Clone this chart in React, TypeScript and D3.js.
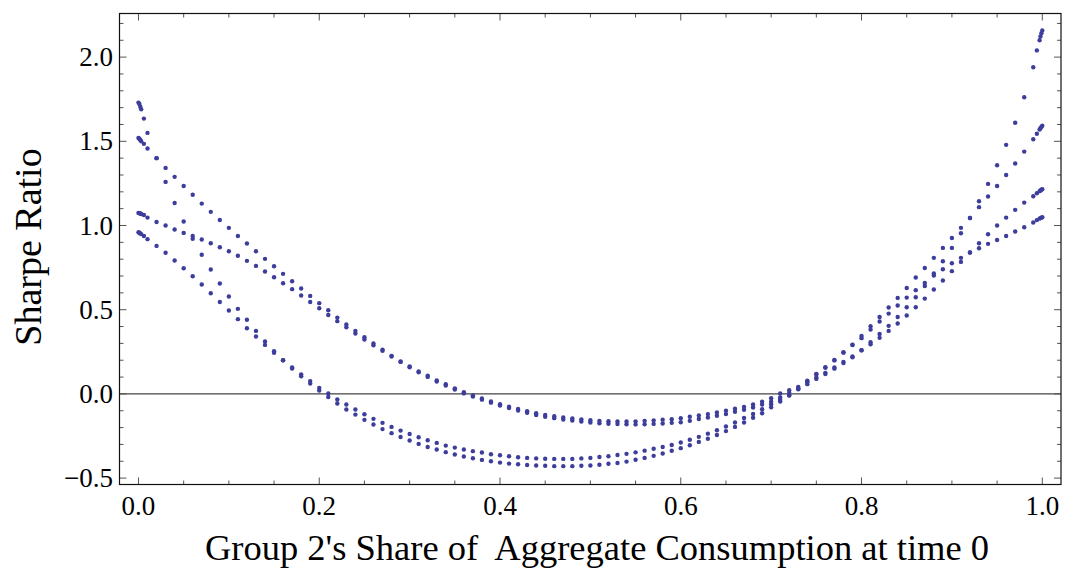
import React, { useRef, useEffect } from 'react';
import * as d3 from 'd3';

// share of group 2 at time 0 (dense near both ends)
const shares = [
  0, 0.001, 0.002, 0.003, 0.006,
  0.01, 0.02, 0.03, 0.04, 0.05, 0.06, 0.07, 0.08, 0.09,
  0.1, 0.11, 0.12, 0.13, 0.14, 0.15, 0.16, 0.17, 0.18, 0.19,
  0.2, 0.21, 0.22, 0.23, 0.24, 0.25, 0.26, 0.27, 0.28, 0.29,
  0.3, 0.31, 0.32, 0.33, 0.34, 0.35, 0.36, 0.37, 0.38, 0.39,
  0.4, 0.41, 0.42, 0.43, 0.44, 0.45, 0.46, 0.47, 0.48, 0.49,
  0.5, 0.51, 0.52, 0.53, 0.54, 0.55, 0.56, 0.57, 0.58, 0.59,
  0.6, 0.61, 0.62, 0.63, 0.64, 0.65, 0.66, 0.67, 0.68, 0.69,
  0.7, 0.71, 0.72, 0.73, 0.74, 0.75, 0.76, 0.77, 0.78, 0.79,
  0.8, 0.81, 0.82, 0.83, 0.84, 0.85, 0.86, 0.87, 0.88, 0.89,
  0.9, 0.91, 0.92, 0.93, 0.94, 0.95, 0.96, 0.97, 0.98, 0.99,
  0.994, 0.997, 0.998, 0.999, 1
];

// deep curve, lower branch in the middle
const deepLow = [
  1.730, 1.722, 1.705, 1.690, 1.635,
  1.550, 1.400, 1.259, 1.134, 1.024, 0.921, 0.826, 0.739, 0.656,
  0.578, 0.505, 0.440, 0.374, 0.311, 0.254, 0.200, 0.151, 0.105, 0.062,
  0.020, -0.018, -0.057, -0.093, -0.123, -0.154, -0.182, -0.209, -0.233, -0.256,
  -0.277, -0.297, -0.315, -0.330, -0.346, -0.360, -0.372, -0.382, -0.392, -0.400,
  -0.408, -0.414, -0.418, -0.422, -0.425, -0.427, -0.429, -0.429, -0.429, -0.427,
  -0.425, -0.421, -0.415, -0.410, -0.402, -0.391, -0.380, -0.368, -0.354, -0.338,
  -0.322, -0.305, -0.285, -0.266, -0.244, -0.221, -0.196, -0.170, -0.142, -0.115,
  -0.079, -0.045, -0.010, 0.028, 0.073, 0.115, 0.155, 0.199, 0.245, 0.292,
  0.344, 0.402, 0.457, 0.513, 0.570, 0.629, 0.691, 0.748, 0.808, 0.867,
  0.926, 0.986, 1.045, 1.109, 1.172, 1.235, 1.300, 1.368, 1.439, 1.512,
  1.545, 1.570, 1.578, 1.586, 1.592
];

// deep curve, upper branch in the middle
const deepHigh = [
  0.960, 0.957, 0.953, 0.949, 0.938,
  0.919, 0.879, 0.838, 0.792, 0.746, 0.699, 0.650, 0.598, 0.546,
  0.495, 0.444, 0.390, 0.341, 0.291, 0.244, 0.200, 0.157, 0.116, 0.076,
  0.036, 0.002, -0.033, -0.063, -0.093, -0.121, -0.148, -0.172, -0.196, -0.218,
  -0.238, -0.257, -0.275, -0.291, -0.307, -0.319, -0.330, -0.340, -0.348, -0.358,
  -0.364, -0.370, -0.376, -0.380, -0.383, -0.385, -0.386, -0.386, -0.386, -0.383,
  -0.380, -0.375, -0.370, -0.363, -0.356, -0.347, -0.337, -0.326, -0.315, -0.303,
  -0.289, -0.272, -0.255, -0.236, -0.216, -0.194, -0.170, -0.143, -0.119, -0.091,
  -0.061, -0.035, -0.008, 0.032, 0.079, 0.119, 0.159, 0.201, 0.247, 0.290,
  0.331, 0.382, 0.430, 0.477, 0.525, 0.572, 0.616, 0.659, 0.703, 0.740,
  0.776, 0.808, 0.840, 0.865, 0.891, 0.914, 0.938, 0.964, 0.990, 1.018,
  1.032, 1.041, 1.044, 1.047, 1.049
];

// shallow curve, lower branch in the middle
const shallowLow = [
  1.520, 1.515, 1.508, 1.500, 1.485,
  1.457, 1.400, 1.342, 1.289, 1.235, 1.183, 1.130, 1.081, 1.033,
  0.986, 0.938, 0.893, 0.847, 0.802, 0.758, 0.713, 0.669, 0.626, 0.582,
  0.539, 0.497, 0.453, 0.412, 0.374, 0.337, 0.299, 0.262, 0.226, 0.190,
  0.158, 0.128, 0.101, 0.074, 0.050, 0.026, 0.003, -0.016, -0.034, -0.052,
  -0.069, -0.084, -0.099, -0.112, -0.125, -0.136, -0.144, -0.152, -0.158, -0.164,
  -0.170, -0.174, -0.177, -0.179, -0.180, -0.181, -0.180, -0.178, -0.176, -0.172,
  -0.168, -0.160, -0.149, -0.140, -0.130, -0.120, -0.106, -0.094, -0.081, -0.063,
  -0.046, -0.021, 0.006, 0.030, 0.058, 0.089, 0.118, 0.150, 0.183, 0.218,
  0.259, 0.307, 0.356, 0.404, 0.457, 0.515, 0.574, 0.641, 0.715, 0.788,
  0.867, 0.954, 1.045, 1.144, 1.247, 1.358, 1.479, 1.610, 1.762, 1.940,
  2.040, 2.100, 2.122, 2.142, 2.158
];

// shallow curve, upper branch in the middle
const shallowHigh = [
  1.075, 1.073, 1.071, 1.068, 1.062,
  1.047, 1.021, 1.000, 0.976, 0.956, 0.938, 0.917, 0.895, 0.871,
  0.847, 0.820, 0.790, 0.760, 0.727, 0.693, 0.657, 0.622, 0.584, 0.546,
  0.509, 0.469, 0.432, 0.396, 0.358, 0.323, 0.289, 0.256, 0.222, 0.192,
  0.163, 0.134, 0.108, 0.080, 0.057, 0.033, 0.010, -0.009, -0.027, -0.045,
  -0.061, -0.076, -0.090, -0.103, -0.115, -0.125, -0.133, -0.140, -0.146, -0.151,
  -0.156, -0.160, -0.162, -0.164, -0.164, -0.163, -0.160, -0.157, -0.153, -0.150,
  -0.144, -0.136, -0.128, -0.120, -0.110, -0.100, -0.088, -0.077, -0.063, -0.047,
  -0.026, 0.002, 0.022, 0.042, 0.068, 0.097, 0.125, 0.157, 0.190, 0.222,
  0.259, 0.295, 0.333, 0.374, 0.418, 0.466, 0.515, 0.566, 0.620, 0.673,
  0.729, 0.784, 0.840, 0.895, 0.948, 1.000, 1.047, 1.093, 1.136, 1.174,
  1.192, 1.204, 1.208, 1.212, 1.216
];

const xMajorTicks = [0, 0.2, 0.4, 0.6, 0.8, 1.0];
const xMinorTicks = [0.05, 0.1, 0.15, 0.25, 0.3, 0.35, 0.45, 0.5, 0.55, 0.65, 0.7, 0.75, 0.85, 0.9, 0.95];
const yMajorTicks = [-0.5, 0, 0.5, 1.0, 1.5, 2.0];
const yMinorTicks = [
  -0.4, -0.3, -0.2, -0.1, 0.1, 0.2, 0.3, 0.4, 0.6, 0.7, 0.8, 0.9,
  1.1, 1.2, 1.3, 1.4, 1.6, 1.7, 1.8, 1.9, 2.1, 2.2
];

const xTitle = "Group 2's Share of  Aggregate Consumption at time 0";
const yTitle = 'Sharpe Ratio';

const WIDTH = 1066;
const HEIGHT = 572;
const FONT = '"Liberation Serif", "Times New Roman", Times, serif';
const DOT_COLOR = '#3d3d9c';

function drawChart(svgEle: SVGSVGElement) {
  const svg = d3.select(svgEle);
  svg.selectAll('*').remove();

  const frame = { left: 119.5, right: 1061, top: 13.5, bottom: 484.5 };

  const x = d3.scaleLinear().domain([-0.021, 1.0207]).range([frame.left, frame.right]);
  const y = d3.scaleLinear().domain([-0.538, 2.259]).range([frame.bottom, frame.top]);

  const MAJOR = 7;
  const MINOR = 4;
  const TICK_COLOR = '#555';

  // zero line
  svg
    .append('line')
    .attr('x1', frame.left)
    .attr('x2', frame.right)
    .attr('y1', y(0))
    .attr('y2', y(0))
    .attr('stroke', '#444')
    .attr('stroke-width', 1.2);

  // points
  const g = svg.append('g').attr('fill', DOT_COLOR);
  for (const series of [deepLow, deepHigh, shallowLow, shallowHigh]) {
    g.selectAll(null)
      .data(series)
      .enter()
      .append('circle')
      .attr('cx', (_d, i) => x(shares[i]))
      .attr('cy', (d) => y(d))
      .attr('r', 2.2);
  }

  // ticks on all four sides, pointing inwards
  const ticks = svg.append('g').attr('stroke', TICK_COLOR).attr('stroke-width', 1);
  const xTicks = [
    ...xMajorTicks.map((v) => ({ v, len: MAJOR })),
    ...xMinorTicks.map((v) => ({ v, len: MINOR }))
  ];
  const yTicks = [
    ...yMajorTicks.map((v) => ({ v, len: MAJOR })),
    ...yMinorTicks.map((v) => ({ v, len: MINOR }))
  ];
  for (const t of xTicks) {
    ticks.append('line')
      .attr('x1', x(t.v)).attr('x2', x(t.v))
      .attr('y1', frame.bottom).attr('y2', frame.bottom - t.len);
    ticks.append('line')
      .attr('x1', x(t.v)).attr('x2', x(t.v))
      .attr('y1', frame.top).attr('y2', frame.top + t.len);
  }
  for (const t of yTicks) {
    ticks.append('line')
      .attr('x1', frame.left).attr('x2', frame.left + t.len)
      .attr('y1', y(t.v)).attr('y2', y(t.v));
    ticks.append('line')
      .attr('x1', frame.right).attr('x2', frame.right - t.len)
      .attr('y1', y(t.v)).attr('y2', y(t.v));
  }

  // frame
  svg
    .append('rect')
    .attr('x', frame.left)
    .attr('y', frame.top)
    .attr('width', frame.right - frame.left)
    .attr('height', frame.bottom - frame.top)
    .attr('fill', 'none')
    .attr('stroke', '#111')
    .attr('stroke-width', 1.2);

  const fmt = d3.format('.1f');

  // tick labels
  svg
    .append('g')
    .selectAll('text')
    .data(xMajorTicks)
    .enter()
    .append('text')
    .attr('x', (d) => x(d))
    .attr('y', 515)
    .attr('text-anchor', 'middle')
    .attr('font-family', FONT)
    .attr('font-size', 27)
    .text((d) => fmt(d));

  svg
    .append('g')
    .selectAll('text')
    .data(yMajorTicks)
    .enter()
    .append('text')
    .attr('x', 113)
    .attr('y', (d) => y(d) + 9)
    .attr('text-anchor', 'end')
    .attr('font-family', FONT)
    .attr('font-size', 27)
    .text((d) => fmt(d));

  // axis titles
  svg
    .append('text')
    .attr('x', 597)
    .attr('y', 560)
    .attr('text-anchor', 'middle')
    .attr('font-family', FONT)
    .attr('font-size', 36.5)
    .style('white-space', 'pre')
    .text(xTitle);

  svg
    .append('text')
    .attr('transform', 'translate(41, 247) rotate(-90)')
    .attr('text-anchor', 'middle')
    .attr('font-family', FONT)
    .attr('font-size', 38)
    .text(yTitle);
}

export default function App(): JSX.Element {
  const svgRef = useRef<SVGSVGElement>(null);

  useEffect(() => {
    if (svgRef.current == null) {
      return;
    }
    drawChart(svgRef.current);
  }, []);

  return (
    <svg
      ref={svgRef}
      width={WIDTH}
      height={HEIGHT}
      style={{ position: 'absolute', left: 0, top: 0, background: '#fff' }}
    />
  );
}
